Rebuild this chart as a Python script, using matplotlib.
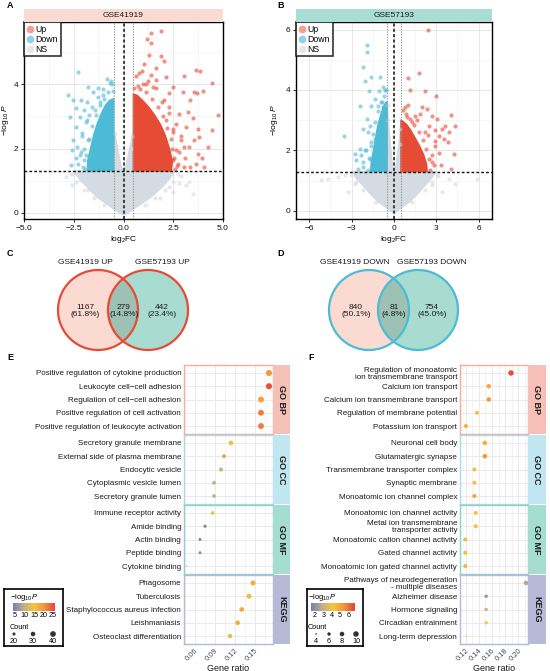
import matplotlib
matplotlib.use('Agg')
import matplotlib.pyplot as plt
from matplotlib.colors import LinearSegmentedColormap, Normalize
from matplotlib.patches import Circle, Polygon
from matplotlib.ticker import MultipleLocator
from matplotlib.lines import Line2D
import numpy as np

plt.rcParams['font.family'] = ['Liberation Sans', 'DejaVu Sans']
plt.rcParams['mathtext.fontset'] = 'custom'
plt.rcParams['mathtext.rm'] = 'Liberation Sans'
plt.rcParams['mathtext.it'] = 'Liberation Sans:italic'
plt.rcParams['mathtext.bf'] = 'Liberation Sans:bold'

# ======================= DATA =======================
# ---- Panel A: GSE41919 volcano (sparse points) ----
A_up_x = [1.40, 1.87, 1.19, 1.39, 1.86, 1.30, 2.04, 1.61, 1.05, 0.77, 0.94, 3.65, 3.86, 4.45, 3.03,
          2.47, 2.98, 3.53, 3.98, 3.68, 3.34, 4.73, 4.43, 3.76, 3.81, 3.76, 3.95, 3.34, 2.81, 3.23,
          3.48, 3.14, 2.89, 2.64, 3.06, 2.47, 2.73, 2.31, 2.06, 2.47, 2.14, 1.64, 1.47, 1.14, 2.31,
          3.56, 3.31, 3.65, 4.23, 4.06, 3.06, 2.14, 2.64,
          2.6, 2.55, 2.4, 2.2, 2.0, 1.75, 1.45, 1.15, 0.85, 2.8, 2.5, 2.3, 1.95, 1.65, 1.25, 0.65,
          0.55, 1.4, 2.9, 3.1, 2.7, 2.45, 1.0, 0.75]
A_up_y = [5.61, 5.67, 5.42, 5.31, 4.89, 4.92, 4.73, 4.52, 4.64, 4.36, 4.42, 4.45, 4.41, 4.05, 4.25,
          3.93, 3.77, 3.77, 3.80, 3.72, 3.51, 3.04, 2.57, 2.60, 2.36, 1.84, 1.71, 1.43, 3.09, 3.15,
          2.94, 2.68, 2.26, 1.95, 2.05, 1.64, 1.53, 3.30, 3.51, 2.52, 4.24, 4.14, 3.93, 4.03, 3.72,
          2.26, 2.05, 1.53, 2.05, 1.43, 1.43, 2.89, 2.78,
          1.35, 1.7, 2.3, 2.65, 3.0, 3.3, 3.55, 3.75, 3.85, 1.9, 2.6, 3.1, 3.45, 3.9, 4.1, 4.25,
          3.9, 4.3, 2.4, 1.7, 1.45, 2.0, 4.0, 3.95]
A_down_x = [-2.29, -0.82, -0.65, -2.79, -1.79, -1.29, -1.54, -2.12, -2.54, -1.84, -1.96, -2.37, -2.68,
            -2.21, -1.71, -1.87, -2.37, -2.54, -2.07, -2.32, -2.58, -2.12, -2.41, -2.63, -2.29, -1.96,
            -1.79, -1.45, -1.20, -1.04, -2.04, -1.71,
            -1.95, -1.9, -1.75, -1.6, -1.4, -1.2, -1.0, -0.8, -0.6, -2.1, -1.85, -1.6, -0.7, -1.05,
            -2.2, -0.55, -2.0, -1.3]
A_down_y = [4.38, 4.16, 4.10, 3.67, 3.91, 3.88, 3.77, 3.51, 3.51, 3.46, 3.20, 3.25, 2.99, 2.99, 3.04,
            2.83, 2.68, 2.26, 2.47, 2.05, 1.95, 1.90, 1.69, 1.48, 1.53, 1.64, 2.26, 3.20, 3.46, 3.67,
            1.43, 1.74,
            1.35, 1.8, 2.3, 2.7, 3.05, 3.35, 3.55, 3.75, 4.0, 2.4, 2.9, 3.3, 4.05, 3.85,
            1.8, 3.8, 2.0, 3.6]
A_ns_x = [3.14, 3.48, 2.81, 2.31, -2.21, -1.79, -1.20, 1.81, -2.54, 2.47, 2.9, -2.9, 3.3, -2.6,
          0.45, -0.45, 0.4, -0.4, 2.75, 2.5, 2.1, 1.6, -2.65, -2.4, -2.0, -1.5, 1.1, -1.0]
A_ns_y = [0.85, 0.59, 0.91, 0.80, 1.01, 0.70, 0.49, 0.44, 1.22, 0.65, 1.15, 1.1, 0.95, 0.85,
          2.4, 2.5, 2.0, 2.1, 1.2, 0.95, 0.7, 0.45, 1.2, 0.95, 0.7, 0.45, 0.25, 0.25]
# outlines of the solid masses of overlapping points
A_up_core = [(0.5, 1.3), (2.4, 1.3), (2.45, 1.6), (2.3, 2.0), (2.1, 2.4), (1.85, 2.75), (1.55, 3.05),
             (1.25, 3.3), (0.95, 3.5), (0.7, 3.65), (0.5, 3.7)]
A_down_core = [(-0.5, 1.3), (-1.8, 1.3), (-1.8, 1.6), (-1.65, 2.0), (-1.5, 2.4), (-1.3, 2.8),
               (-1.1, 3.1), (-0.9, 3.35), (-0.7, 3.5), (-0.5, 3.55)]
A_ns_core = [(-0.1, -0.05), (0.1, -0.05), (0.45, 0.1), (0.9, 0.28), (1.4, 0.5), (1.9, 0.78), (2.3, 1.05),
             (2.6, 1.3), (-2.5, 1.3), (-2.2, 1.05), (-1.8, 0.78), (-1.35, 0.5), (-0.85, 0.28), (-0.45, 0.1)]
A_ns_wing_r = [(0.5, 1.3), (0.5, 2.5), (0.35, 2.1), (0.15, 1.5), (0.05, 1.3)]
A_ns_wing_l = [(-0.5, 1.3), (-0.5, 2.6), (-0.35, 2.15), (-0.15, 1.5), (-0.05, 1.3)]

# ---- Panel B: GSE57193 volcano ----
B_up_x = [2.40, 1.74, 1.02, 1.14, 2.21, 3.0, 0.79, 1.98, 2.33, 4.07, 4.36, 1.86, 2.69, 1.5, 3.05, 3.64,
          3.40, 3.88, 3.81, 3.52, 3.17, 2.93, 4.24, 3.36, 4.05, 2.93, 2.69, 2.45, 2.21, 2.81, 1.26, 0.55, 0.9,
          2.55, 2.5, 2.3, 2.05, 1.75, 1.45, 1.15, 0.85, 0.65, 2.7, 2.4, 1.6, 1.0, 3.2, 2.9]
B_up_y = [5.98, 4.56, 4.40, 4.01, 3.98, 3.81, 3.43, 3.43, 3.37, 3.18, 2.82, 3.21, 3.15, 3.15, 3.04, 2.82,
          2.71, 2.60, 2.27, 2.38, 2.49, 2.66, 1.89, 1.53, 1.40, 2.16, 1.84, 2.82, 2.60, 1.51, 2.93, 2.60, 3.10,
          1.35, 1.7, 2.05, 2.35, 2.6, 2.85, 3.05, 3.2, 3.35, 1.6, 2.5, 3.0, 3.5, 1.9, 2.3]
B_down_x = [-1.90, -1.90, -2.19, -2.07, -1.64, -1.0, -1.76, -1.07, -0.64, -3.55, -2.43, -1.60, -1.36, -1.12,
            -0.88, -0.76, -2.19, -1.95, -1.83, -2.43, -2.79, -2.67, -2.31, -2.07, -2.55, -2.19, -1.71, -1.36, -1.60,
            -1.85, -1.8, -1.65, -1.5, -1.35, -1.15, -0.95, -0.7, -0.6, -2.0, -1.7, -0.8, -2.2]
B_down_y = [5.49, 5.26, 4.75, 4.31, 4.44, 4.44, 3.98, 3.96, 4.0, 2.47, 3.48, 3.48, 3.70, 3.48, 3.59, 3.43,
            2.71, 3.04, 2.60, 2.05, 1.89, 1.69, 1.84, 2.0, 1.40, 1.45, 1.73, 2.38, 2.27,
            1.35, 1.75, 2.15, 2.55, 2.95, 3.3, 3.6, 3.8, 4.0, 2.0, 2.8, 4.1, 1.6]
B_ns_x = [-4.69, -3.98, -2.79, 5.86, 3.40, 2.69, 3.88, -3.26, -5.17, -3.5, 3.1, 4.3, 0.45, -0.45, -0.4, 0.4,
          3.05, 2.7, 2.2, -3.05, -2.7, -2.2, 1.3, -1.3]
B_ns_y = [1.07, 1.12, 0.9, 1.07, 0.63, 0.85, 1.07, 0.63, 1.01, 1.2, 1.15, 0.9, 2.7, 3.5, 3.0, 2.2,
          1.2, 0.95, 0.7, 1.2, 0.95, 0.7, 0.3, 0.3]
B_up_core = [(0.5, 1.3), (2.35, 1.3), (2.3, 1.55), (2.1, 1.85), (1.8, 2.15), (1.5, 2.4), (1.2, 2.65),
             (0.9, 2.85), (0.65, 2.95), (0.5, 3.0)]
B_down_core = [(-0.5, 1.3), (-1.65, 1.3), (-1.6, 1.65), (-1.45, 2.0), (-1.3, 2.4), (-1.15, 2.8),
               (-0.95, 3.15), (-0.75, 3.45), (-0.55, 3.6), (-0.5, 3.6)]
B_ns_core = [(-0.1, -0.05), (0.1, -0.05), (0.5, 0.1), (1.1, 0.3), (1.7, 0.58), (2.3, 0.9), (2.7, 1.1),
             (2.95, 1.3), (-2.95, 1.3), (-2.7, 1.1), (-2.3, 0.9), (-1.7, 0.58), (-1.1, 0.3), (-0.5, 0.1)]
B_ns_wing_r = [(0.5, 1.3), (0.5, 2.8), (0.35, 2.2), (0.15, 1.5), (0.05, 1.3)]
B_ns_wing_l = [(-0.5, 1.3), (-0.5, 3.6), (-0.35, 2.6), (-0.15, 1.6), (-0.05, 1.3)]

# ---- Panels C, D: Venn counts ----
C_names = ['GSE41919 UP', 'GSE57193 UP']
C_counts = [1167, 279, 442]
D_names = ['GSE41919 DOWN', 'GSE57193 DOWN']
D_counts = [840, 81, 754]

# ---- Panel E: enrichment ----
E_cats = ['GO BP', 'GO CC', 'GO MF', 'KEGG']
E_terms = ['Positive regulation of cytokine production', 'Leukocyte cell\u2212cell adhesion',
           'Regulation of cell\u2212cell adhesion', 'Positive regulation of cell activation',
           'Positive regulation of leukocyte activation',
           'Secretory granule membrane', 'External side of plasma membrane', 'Endocytic vesicle',
           'Cytoplasmic vesicle lumen', 'Secretory granule lumen',
           'Immune receptor activity', 'Amide binding', 'Actin binding', 'Peptide binding', 'Cytokine binding',
           'Phagosome', 'Tuberculosis', 'Staphylococcus aureus infection', 'Leishmaniasis',
           'Osteoclast differentiation']
E_ratio = [0.171, 0.171, 0.159, 0.159, 0.159,
           0.114, 0.1035, 0.099, 0.0885, 0.0885,
           0.0865, 0.075, 0.0675, 0.0675, 0.0475,
           0.147, 0.141, 0.130, 0.124, 0.1125]
E_logp = [20, 25, 19, 22, 22,
          16, 11, 11, 9.5, 9.5,
          14, 5, 4.5, 5.5, 5,
          17.5, 16.5, 18, 18, 13]
E_count = [44, 44, 42, 42, 42,
           31, 27, 26, 24, 24,
           24, 21, 20, 20, 13,
           34, 33, 31, 30, 28]

# ---- Panel F: enrichment ----
F_cats = ['GO BP', 'GO CC', 'GO MF', 'KEGG']
F_terms = ['Regulation of monoatomic\nion transmembrane transport', 'Calcium ion transport',
           'Calcium ion transmembrane transport', 'Regulation of membrane potential',
           'Potassium ion transport',
           'Neuronal cell body', 'Glutamatergic synapse', 'Transmembrane transporter complex',
           'Synaptic membrane', 'Monoatomic ion channel complex',
           'Monoatomic ion channel activity', 'Metal ion transmembrane\ntransporter activity',
           'Monoatomic cation channel activity', 'Gated channel activity',
           'Monoatomic ion gated channel activity',
           'Pathways of neurodegeneration\n- multiple diseases', 'Alzheimer disease', 'Hormone signaling',
           'Circadian entrainment', 'Long-term depression']
F_ratio = [0.189, 0.155, 0.155, 0.137, 0.120,
           0.149, 0.149, 0.133, 0.133, 0.133,
           0.135, 0.135, 0.119, 0.119, 0.119,
           0.212, 0.151, 0.151, 0.151, 0.121]
F_logp = [6.6, 4.8, 5.3, 4.3, 4.7,
          4.7, 5.3, 4.3, 4.3, 5.0,
          4.3, 4.3, 4.4, 4.4, 4.5,
          2.7, 2.0, 3.0, 4.2, 4.6]
F_count = [10, 8, 8, 7, 7,
           8, 8, 7, 7, 7,
           7, 7, 7, 7, 7,
           8, 6, 6, 6, 4]

# ======================= STYLE / LAYOUT =======================
W, H = 550, 671
fig = plt.figure(figsize=(W / 100, H / 100), dpi=100)
fig.patch.set_facecolor('white')

RED, BLUE, GREY = '#E64B35', '#4DBBD5', '#D5DBE2'
CMAP = LinearSegmentedColormap.from_list('enr', ['#6F80C2', '#C2AD88', '#F7C53C', '#F2933B', '#E8403E'])
STRIP_FILL = ['#F7C0B6', '#BFE6F1', '#A5DDD2', '#B6BAD6']
SPINE_COL = ['#F3ADA1', '#A9DCEA', '#8DD3C5', '#B5BAD8']


def axpx(l, t, r, b, **kw):
    return fig.add_axes([l / W, 1 - b / H, (r - l) / W, (b - t) / H], **kw)


YLAB = r'$-\log_{10}\mathit{P}$'


def draw_volcano(box, title, strip_col, xlim, ylim, xstep, ystep, cores, groups, ylab_pad):
    l, t, r, b = box
    ax = axpx(l, t, r, b)
    ax.set_xlim(*xlim)
    ax.set_ylim(*ylim)
    ax.xaxis.set_major_locator(MultipleLocator(xstep))
    ax.xaxis.set_minor_locator(MultipleLocator(xstep / 2))
    ax.yaxis.set_major_locator(MultipleLocator(ystep))
    ax.yaxis.set_minor_locator(MultipleLocator(ystep / 2))
    ax.grid(True, which='major', color='#E3E3E3', lw=0.6)
    ax.grid(True, which='minor', color='#F0F0F0', lw=0.4)
    ax.set_axisbelow(True)
    for verts, col in cores:
        ax.add_patch(Polygon(verts, closed=True, fc=col, ec=col, lw=1.2, joinstyle='round', zorder=2))
    for xs, ys, col in groups:
        ax.scatter(xs, ys, s=9, c=col, alpha=0.6, lw=0, zorder=3)
    ax.axvline(-0.5, color='#9A9A9A', ls=(0, (1.2, 1.2)), lw=0.8, zorder=4)
    ax.axvline(0.5, color='#9A9A9A', ls=(0, (1.2, 1.2)), lw=0.8, zorder=4)
    ax.axvline(0, color='#111111', ls=(0, (2, 1.5)), lw=1.1, zorder=5)
    ax.axhline(-np.log10(0.05), color='#111111', ls=(0, (2, 1.5)), lw=1.0, zorder=5)
    for s in ax.spines.values():
        s.set_color('black')
        s.set_linewidth(1.0)
    ax.tick_params(which='major', labelsize=6, length=2.5, width=0.6, pad=1.5, colors='#111111')
    ax.tick_params(which='minor', length=0)
    ax.set_xlabel(r'log$_2$FC', fontsize=6, labelpad=2)
    ax.set_ylabel(YLAB, fontsize=6, labelpad=ylab_pad)
    handles = [Line2D([], [], marker='o', ls='', color='#F3A093', ms=4.5),
               Line2D([], [], marker='o', ls='', color='#8DD3E4', ms=4.5),
               Line2D([], [], marker='o', ls='', color='#E3E7EC', ms=4.5)]
    leg = ax.legend(handles, ['Up', 'Down', 'NS'], loc='upper left', bbox_to_anchor=(0, 1),
                    borderaxespad=0, frameon=True, fancybox=False, edgecolor='black', fontsize=6.3,
                    handlelength=0.7, handletextpad=0.3, borderpad=0.3, labelspacing=0.12)
    leg.get_frame().set_linewidth(1.2)
    leg.set_zorder(10)
    sax = axpx(l, 9, r, t)
    sax.set_facecolor(strip_col)
    sax.set_xticks([])
    sax.set_yticks([])
    for s in sax.spines.values():
        s.set_visible(False)
    sax.text(0.5, 0.5, title, ha='center', va='center', fontsize=6, color='#1A1A1A', transform=sax.transAxes)
    return ax


draw_volcano((24, 22, 223, 219), 'GSE41919', '#FADBD3', (-5, 5), (-0.2, 5.95), 2.5, 2,
             [(A_ns_core, GREY), (A_ns_wing_r, GREY), (A_ns_wing_l, GREY),
              (A_up_core, RED), (A_down_core, BLUE)],
             [(A_ns_x, A_ns_y, GREY), (A_up_x, A_up_y, RED), (A_down_x, A_down_y, BLUE)], 2)
draw_volcano((296, 22, 492, 219), 'GSE57193', '#A9DED5', (-6.95, 6.95), (-0.27, 6.25), 3, 2,
             [(B_ns_core, GREY), (B_ns_wing_r, GREY), (B_ns_wing_l, GREY),
              (B_up_core, RED), (B_down_core, BLUE)],
             [(B_ns_x, B_ns_y, GREY), (B_up_x, B_up_y, RED), (B_down_x, B_down_y, BLUE)], 4)

# ---- Venn diagrams (pixel-coordinate overlay) ----
vax = fig.add_axes([0, 0, 1, 1], zorder=-1)
vax.set_xlim(0, W)
vax.set_ylim(H, 0)
vax.axis('off')


def draw_venn(lc, rc, cy, rad, counts, names, name_x, text_x, edge_col):
    left = Circle((lc, cy), rad, fc='#FBDAD1', ec='none')
    right = Circle((rc, cy), rad, fc='#A8DCD1', ec='none')
    vax.add_patch(left)
    vax.add_patch(right)
    lens = Circle((rc, cy), rad, fc='#9DC2B5', ec='none')
    vax.add_patch(lens)
    lens.set_clip_path(left)
    vax.add_patch(Circle((lc, cy), rad, fc='none', ec=edge_col, lw=1.6))
    vax.add_patch(Circle((rc, cy), rad, fc='none', ec=edge_col, lw=1.6))
    total = sum(counts)
    for x, c in zip(text_x, counts):
        vax.text(x, cy + 1, f'{c}\n({c / total * 100:.1f}%)', ha='center', va='center', fontsize=6,
                 linespacing=1.15, color='#1A1A1A')
    for x, n in zip(name_x, names):
        vax.text(x, 263, n, ha='center', va='center', fontsize=6, color='#1A1A1A')


draw_venn(98, 148, 310, 40, C_counts, C_names, (85, 162), (85, 124, 162), RED)
draw_venn(369, 418, 310, 40, D_counts, D_names, (355, 432), (356, 394, 432), BLUE)


# ---- Enrichment dot plots ----
def draw_dotplot(l, r, sl, sr, cats, terms, ratio, logp, count, norm, size_fn, xlim, xmaj, xfmt):
    ratio = np.array(ratio)
    logp = np.array(logp)
    count = np.array(count)
    n = len(cats)
    for i, cat in enumerate(cats):
        t = 365 + 70 * i
        b = t + 69
        ax = axpx(l, t, r, b)
        idx = slice(5 * i, 5 * i + 5)
        ys = np.arange(5)
        ax.scatter(ratio[idx], ys, s=size_fn(count[idx]), c=logp[idx], cmap=CMAP, norm=norm,
                   lw=0, zorder=3)
        ax.set_ylim(4.6, -0.6)
        ax.set_yticks(ys)
        ax.set_yticklabels(terms[5 * i:5 * i + 5], fontsize=5.8, color='#1A1A1A', linespacing=0.95)
        ax.set_xlim(*xlim)
        ax.xaxis.set_major_locator(MultipleLocator(xmaj))
        ax.xaxis.set_minor_locator(MultipleLocator(xmaj / 2))
        ax.grid(True, which='major', color='#E6E6E6', lw=0.6)
        ax.grid(True, which='minor', axis='x', color='#EFEFEF', lw=0.5)
        ax.set_axisbelow(True)
        ax.tick_params(axis='y', length=0, pad=2)
        ax.tick_params(axis='x', which='both', length=0)
        for s in ax.spines.values():
            s.set_color(SPINE_COL[i])
            s.set_linewidth(1.0)
        if i == n - 1:
            ax.xaxis.set_major_formatter(plt.FormatStrFormatter(xfmt))
            ax.tick_params(axis='x', labelsize=5.5, labelcolor='#4D4D4D', pad=2)
            plt.setp(ax.get_xticklabels(), rotation=45, ha='right', rotation_mode='anchor')
            ax.set_xlabel('Gene ratio', fontsize=6.5, labelpad=1, color='#1A1A1A')
        else:
            ax.set_xticklabels([])
        sax = axpx(sl, t, sr, b)
        sax.set_facecolor(STRIP_FILL[i])
        sax.set_xticks([])
        sax.set_yticks([])
        for s in sax.spines.values():
            s.set_visible(False)
        sax.text(0.5, 0.5, cat, rotation=270, ha='center', va='center', fontsize=6.5,
                 fontweight='bold', color='#1A1A1A', transform=sax.transAxes)


def draw_legend(box, cbox, norm, ticks, cnt_vals, cnt_x, size_fn):
    l, t, r, b = box
    lax = axpx(l, t, r, b)
    lax.set_xlim(l, r)
    lax.set_ylim(b, t)
    lax.set_xticks([])
    lax.set_yticks([])
    for s in lax.spines.values():
        s.set_linewidth(1.2)
        s.set_color('black')
    lax.text(cbox[0] - 3, t + 8, YLAB, fontsize=5.5, va='center', ha='left')
    cax = axpx(cbox[0], t + 14, cbox[1], t + 22)
    sm = matplotlib.cm.ScalarMappable(norm=norm, cmap=CMAP)
    cb = fig.colorbar(sm, cax=cax, orientation='horizontal', ticks=ticks)
    cb.outline.set_visible(False)
    cax.tick_params(length=0, labelsize=5.2, pad=1)
    lax.text(cbox[0] - 3, t + 38, 'Count', fontsize=5.2, va='center', ha='left')
    cnt_vals = np.array(cnt_vals)
    lax.scatter(cnt_x, [t + 45] * len(cnt_x), s=size_fn(cnt_vals), c='#333333', lw=0, clip_on=False)
    for x, v in zip(cnt_x, cnt_vals):
        lax.text(x, t + 52, str(v), fontsize=5.2, ha='center', va='center')


E_norm = Normalize(4, 26)
F_norm = Normalize(1.5, 6.8)


def E_size(c):
    return np.clip(0.6 * (c - 12), 0.3, None)


def F_size(c):
    return np.clip(2.42 * (c - 3.5), 0.3, None)


draw_dotplot(184, 273, 273, 290, E_cats, E_terms, E_ratio, E_logp, E_count, E_norm, E_size,
             (0.0435, 0.177), 0.03, '%.2f')
draw_dotplot(460, 528, 528, 546, F_cats, F_terms, F_ratio, F_logp, F_count, F_norm, F_size,
             (0.111, 0.215), 0.02, '%.2f')
draw_legend((4, 589, 63, 646), (13, 55), E_norm, [5, 10, 15, 20, 25], [20, 30, 40], [14, 33, 53], E_size)
draw_legend((307, 589, 363, 646), (311, 355), F_norm, [2, 3, 4, 5, 6], [4, 6, 8, 10], [316, 329, 342, 356], F_size)

# ---- panel letters ----
for letter, x, y in [('A', 7, 6), ('B', 277, 6), ('C', 7, 253), ('D', 277, 253), ('E', 7, 358), ('F', 308, 358)]:
    fig.text(x / W, 1 - y / H, letter, fontsize=6.5, fontweight='bold', ha='left', va='center')

fig.savefig('out.png', dpi=100, facecolor='white')
